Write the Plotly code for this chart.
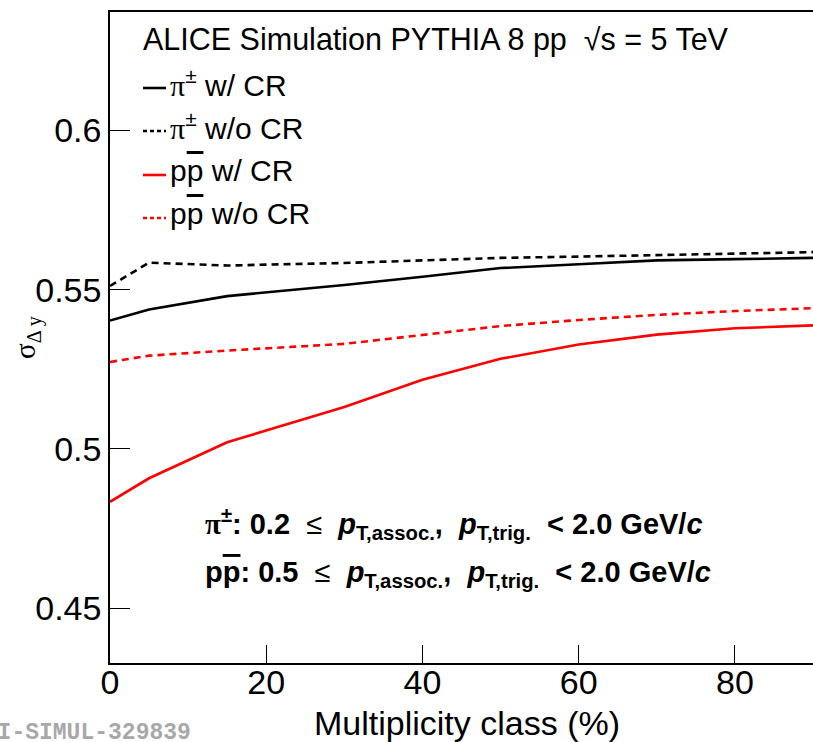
import plotly.graph_objects as go

# ---------------- data ----------------
mult = [0, 5, 15, 30, 40, 50, 60, 70, 80, 90]
pi_cr = [0.5403, 0.5438, 0.5480, 0.5515, 0.5541, 0.5568, 0.5580, 0.5592, 0.5596, 0.5600]
pi_nocr = [0.5512, 0.5585, 0.5576, 0.5584, 0.5592, 0.5600, 0.5604, 0.5609, 0.5613, 0.5618]
p_cr = [0.4834, 0.4908, 0.5021, 0.5132, 0.5217, 0.5283, 0.5328, 0.5359, 0.5379, 0.5388]
p_nocr = [0.5273, 0.5293, 0.5309, 0.5330, 0.5358, 0.5386, 0.5405, 0.5421, 0.5433, 0.5442]

y_ticks = [0.45, 0.5, 0.55, 0.6]
y_tick_labels = ["0.45", "0.5", "0.55", "0.6"]
x_ticks = [0, 20, 40, 60, 80]
x_tick_labels = ["0", "20", "40", "60", "80"]

series = [
    ("π± w/ CR", pi_cr, "black", "solid"),
    ("π± w/o CR", pi_nocr, "black", "7px,5px"),
    ("pp̄ w/ CR", p_cr, "#ff0000", "solid"),
    ("pp̄ w/o CR", p_nocr, "#ff0000", "7px,5px"),
]

# ---------------- layout geometry ----------------
W, H = 813, 742
L, R, T, B = 110, 0, 12, 79
PW = W - L - R
PH = H - T - B


def xp(px):
    return (px - L) / PW


def yp(py):
    return (H - B - py) / PH


SANS = "Liberation Sans, Arial, Helvetica, sans-serif"
SERIF = "Liberation Serif"

fig = go.Figure()
for name, ys, col, dash in series:
    fig.add_trace(go.Scatter(x=mult, y=ys, mode="lines", name=name,
                             line=dict(color=col, width=2.6, dash=dash),
                             showlegend=False))

fig.update_layout(
    width=W, height=H,
    margin=dict(l=L, r=R, t=T, b=B, pad=0),
    paper_bgcolor="white", plot_bgcolor="white",
    font=dict(family=SANS, color="black"),
    xaxis=dict(range=[0, 90], showgrid=False, zeroline=False,
               showline=True, linecolor="black", linewidth=1.5, mirror=True,
               ticks="inside", ticklen=18, tickwidth=1.3, tickcolor="black",
               tickvals=x_ticks, ticktext=x_tick_labels,
               ticklabelstandoff=-12,
               tickfont=dict(size=34, family=SANS)),
    yaxis=dict(range=[0.4328, 0.6372], showgrid=False, zeroline=False,
               showline=True, linecolor="black", linewidth=1.5,
               ticks="inside", ticklen=20, tickwidth=1.3, tickcolor="black",
               tickvals=y_ticks, ticktext=y_tick_labels,
               tickfont=dict(size=34, family=SANS)),
)

ann = []
# axis titles
ann.append(dict(x=xp(467), y=yp(723), xref="paper", yref="paper",
                text="Multiplicity class (%)", showarrow=False,
                xanchor="center", yanchor="middle",
                font=dict(size=34, family=SANS)))
ann.append(dict(x=xp(27), y=yp(337), xref="paper", yref="paper",
                text=f"<span style=\"font-family:{SERIF}\">σ<sub>Δ y</sub></span>",
                showarrow=False, textangle=-90,
                xanchor="center", yanchor="middle",
                font=dict(size=29, family=SERIF)))

# header
ann.append(dict(x=xp(141), y=yp(40), xref="paper", yref="paper",
                text="ALICE Simulation PYTHIA 8 pp  √s = 5 TeV",
                showarrow=False, xanchor="left", yanchor="middle",
                font=dict(size=30.5, family=SANS)))

# legend
pi_txt = f"<span style=\"font-family:{SERIF}\">π</span><sup>±</sup>"
pbar_txt = "p<span style=\"text-decoration:overline\">p</span>"
leg_labels = [pi_txt + " w/ CR", pi_txt + " w/o CR", pbar_txt + " w/ CR", pbar_txt + " w/o CR"]
rows = [83, 126, 170, 213]
shapes = []
for (name, ys, col, dash), lab, ry in zip(series, leg_labels, rows):
    shapes.append(dict(type="line", xref="paper", yref="paper",
                       x0=xp(143), x1=xp(166), y0=yp(ry + 5), y1=yp(ry + 5),
                       line=dict(color=col, width=2.6, dash="4px,3px" if dash != "solid" else "solid")))
    ann.append(dict(x=xp(168), y=yp(ry), xref="paper", yref="paper",
                    text=lab, showarrow=False, xanchor="left", yanchor="middle",
                    font=dict(size=30, family=SANS)))

# kinematic range text
line1 = (f"<b><span style=\"font-family:{SERIF}\">π</span><sup>±</sup>: 0.2 </b> ≤ <b> "
         "<i>p</i><sub>T,assoc.</sub>,  <i>p</i><sub>T,trig.</sub>  &lt; 2.0 GeV/<i>c</i></b>")
line2 = ("<b>p<span style=\"text-decoration:overline\">p</span>: 0.5 </b> ≤ <b> "
         "<i>p</i><sub>T,assoc.</sub>,  <i>p</i><sub>T,trig.</sub>  &lt; 2.0 GeV/<i>c</i></b>")
ann.append(dict(x=xp(203), y=yp(524), xref="paper", yref="paper",
                text=line1, showarrow=False, xanchor="left", yanchor="middle",
                font=dict(size=29, family=SANS)))
ann.append(dict(x=xp(203), y=yp(574), xref="paper", yref="paper",
                text=line2, showarrow=False, xanchor="left", yanchor="middle",
                font=dict(size=29, family=SANS)))

# watermark
ann.append(dict(x=xp(193), y=yp(733), xref="paper", yref="paper",
                text="<b>ALI-SIMUL-329839</b>", showarrow=False,
                xanchor="right", yanchor="middle",
                font=dict(size=23, family="Liberation Mono", color="#a8a8a8")))

fig.update_layout(annotations=ann, shapes=shapes)
fig.write_html("out.html")
